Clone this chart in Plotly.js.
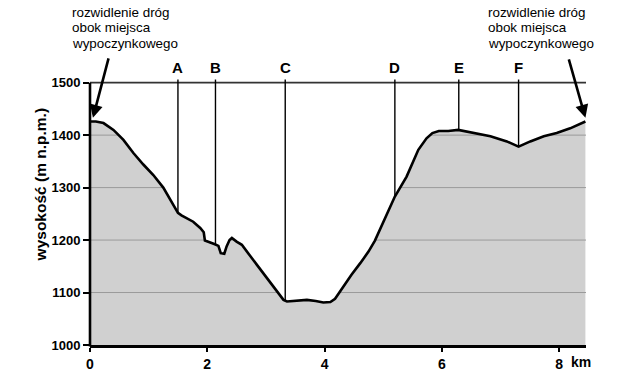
<!DOCTYPE html>
<html>
<head>
<meta charset="utf-8">
<script src="https://cdn.plot.ly/plotly-3.0.1.min.js"></script>
<style>html,body{margin:0;padding:0;background:#fff;}#chart{width:620px;height:379px;}</style>
</head>
<body>
<div id="chart"></div>
<script>
// Elevation profile (km, m a.s.l.)
var distKm = [0, 0.1, 0.23, 0.4, 0.57, 0.74, 0.91, 1.08, 1.25, 1.42, 1.5, 1.56, 1.65, 1.76, 1.88, 1.94, 1.96, 2.05, 2.13, 2.19, 2.23, 2.29, 2.33, 2.38, 2.42, 2.5, 2.59, 2.73, 2.96, 3.13, 3.3, 3.36, 3.5, 3.7, 3.85, 3.98, 4.1, 4.18, 4.32, 4.46, 4.61, 4.75, 4.86, 5.06, 5.2, 5.4, 5.6, 5.74, 5.84, 5.95, 6.11, 6.28, 6.54, 6.83, 7.11, 7.31, 7.51, 7.74, 7.96, 8.19, 8.45];
var elevM = [1426, 1426, 1423, 1410, 1391, 1366, 1344, 1324, 1300, 1266, 1252, 1247, 1242, 1235, 1223, 1215, 1199, 1196, 1192, 1189, 1175, 1174, 1188, 1200, 1204, 1197, 1191, 1170, 1137, 1111, 1086, 1083, 1084, 1086, 1084, 1081, 1082, 1088, 1111, 1134, 1156, 1178, 1199, 1248, 1283, 1321, 1372, 1394, 1404, 1408, 1408, 1410, 1404, 1398, 1388, 1378, 1388, 1398, 1404, 1413, 1426];

// Marked points
var markerNames = ['A', 'B', 'C', 'D', 'E', 'F'];
var markerKm = [1.5, 2.14, 3.33, 5.2, 6.29, 7.31];
var markerElev = [1252, 1192, 1084, 1283, 1410, 1378];

// Axes
var xTicks = [0, 2, 4, 6, 8];
var yTicks = [1000, 1100, 1200, 1300, 1400, 1500];
var gridLevels = [1100, 1200, 1300, 1400];
var xMax = 8.46;
var yMin = 1000, yTopLine = 1500, yMax = 1507;

var endLabel = ['rozwidlenie dróg', 'obok miejsca', 'wypoczynkowego'];
var yTitle = 'wysokość (m n.p.m.)';
var xUnit = 'km';

var FONT = 'Arial, "Liberation Sans", sans-serif';

var traces = [];
// gray area under profile
traces.push({x: distKm, y: elevM, type: 'scatter', mode: 'lines', fill: 'tozeroy',
  fillcolor: '#d0d0d0', line: {width: 0}, hoverinfo: 'skip', showlegend: false});
// gridlines (visible only under the profile)
gridLevels.forEach(function (g) {
  traces.push({x: [0, xMax], y: [g, g], type: 'scatter', mode: 'lines',
    line: {color: '#9a9a9a', width: 1}, hoverinfo: 'skip', showlegend: false});
});
// white cover above profile
traces.push({x: [0, xMax], y: [yMax, yMax], type: 'scatter', mode: 'lines',
  line: {width: 0}, hoverinfo: 'skip', showlegend: false});
traces.push({x: distKm, y: elevM, type: 'scatter', mode: 'lines', fill: 'tonexty',
  fillcolor: '#ffffff', line: {color: '#000', width: 2.6}, hoverinfo: 'skip', showlegend: false});

var topPaper = (yTopLine - yMin) / (yMax - yMin);
var shapes = [
  {type: 'line', xref: 'x', yref: 'y', x0: 0, x1: xMax, y0: yTopLine, y1: yTopLine,
    line: {color: '#333', width: 1.6}, layer: 'above'},
  {type: 'line', xref: 'paper', yref: 'paper', x0: 0, x1: 0, y0: -0.006, y1: topPaper,
    line: {color: '#000', width: 2.6}, layer: 'above'}
];
markerKm.forEach(function (mx, i) {
  shapes.push({type: 'line', xref: 'x', yref: 'y', x0: mx, x1: mx, y0: markerElev[i], y1: yMax - 1,
    line: {color: '#000', width: 1.4}, layer: 'above'});
});

var annotations = [];
markerKm.forEach(function (mx, i) {
  annotations.push({xref: 'x', yref: 'paper', x: mx, y: 1, yanchor: 'middle', yshift: 12,
    text: markerNames[i], showarrow: false, font: {family: FONT, size: 15, weight: 700, color: '#000'}});
});
var lineCenters = [12.3, 27.7, 43.3];
endLabel.forEach(function (t, i) {
  annotations.push({xref: 'paper', yref: 'paper', x: 0, xshift: -20, xanchor: 'left', y: 1, yanchor: 'middle',
    yshift: 79 - lineCenters[i], text: t, showarrow: false, font: {family: FONT, size: 13.4, color: '#000'}});
  annotations.push({xref: 'paper', yref: 'paper', x: 1, xshift: -100, xanchor: 'left', y: 1, yanchor: 'middle',
    yshift: 79 - lineCenters[i], text: t, showarrow: false, font: {family: FONT, size: 13.4, color: '#000'}});
});
// arrows to route ends
annotations.push({xref: 'x', yref: 'y', x: distKm[0] + 0.05, y: 1433, ax: 16, ay: -61, text: '',
  showarrow: true, arrowhead: 2, arrowsize: 1, arrowwidth: 2.6, arrowcolor: '#000', standoff: 0});
annotations.push({xref: 'x', yref: 'y', x: distKm[distKm.length - 1], y: 1433, ax: -17, ay: -60, text: '',
  showarrow: true, arrowhead: 2, arrowsize: 1, arrowwidth: 2.6, arrowcolor: '#000', standoff: 0});
// axis title
annotations.push({xref: 'paper', yref: 'paper', x: 0, xshift: -50, xanchor: 'center', y: 0.6, yanchor: 'middle',
  text: yTitle, textangle: -90,
  showarrow: false, font: {family: FONT, size: 15.5, weight: 700, color: '#000'}});
// unit
annotations.push({xref: 'x', yref: 'paper', x: 8.38, y: 0, yanchor: 'middle', yshift: -17, text: xUnit,
  showarrow: false, font: {family: FONT, size: 14, weight: 700, color: '#000'}});

var layout = {
  width: 620, height: 379,
  margin: {l: 90, r: 34, t: 79, b: 34, pad: 0},
  paper_bgcolor: '#fff', plot_bgcolor: '#fff',
  showlegend: false,
  xaxis: {range: [0, xMax], tickvals: xTicks, ticktext: xTicks.map(String), ticks: 'outside', ticklen: 4,
    tickwidth: 2, tickcolor: '#000', showline: true, linewidth: 3, linecolor: '#000', showgrid: false,
    zeroline: false, fixedrange: true, tickfont: {family: FONT, size: 14, weight: 700, color: '#000'}},
  yaxis: {range: [yMin, yMax], tickvals: yTicks, ticktext: yTicks.map(String), ticks: 'outside', ticklen: 6,
    tickwidth: 2, tickcolor: '#000', showline: false, showgrid: false, zeroline: false, fixedrange: true,
    tickfont: {family: FONT, size: 13, weight: 700, color: '#000'}},
  shapes: shapes,
  annotations: annotations
};

Plotly.newPlot('chart', traces, layout, {displayModeBar: false, staticPlot: true});
</script>
</body>
</html>
